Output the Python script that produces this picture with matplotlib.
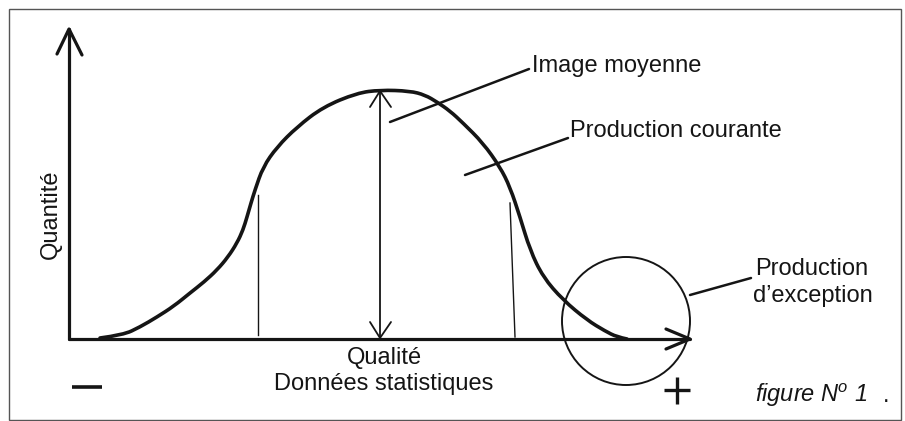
import matplotlib.pyplot as plt
from matplotlib.patches import Circle, Rectangle, PathPatch
from matplotlib.path import Path

# Quality distribution curve (pixel units, y downwards)
curve_x = [100, 123, 140, 157, 174, 190, 204, 217, 228, 237, 243, 247, 251, 255,
           263, 277, 297, 323, 357, 380, 410, 425, 437, 450, 463, 483, 500, 510,
           520, 530, 543, 563, 587, 605, 617, 627]
curve_y = [338, 335, 327, 317, 306, 293, 282, 270, 257, 243, 230, 217, 203, 190,
           167, 147, 127, 107, 93, 90, 91, 95, 102, 111, 123, 143, 167, 187,
           217, 250, 277, 300, 320, 331, 337, 339]

labels = ["Image moyenne", "Production courante", "Production", "d\u2019exception"]

plt.rcParams['font.family'] = ['Liberation Sans', 'DejaVu Sans']
plt.rcParams['mathtext.fontset'] = 'custom'
plt.rcParams['mathtext.rm'] = 'Liberation Sans'
plt.rcParams['mathtext.it'] = 'Liberation Sans:italic'

INK = '#151515'
FS = 17

fig = plt.figure(figsize=(9.05, 4.21), dpi=100)
ax = fig.add_axes([0, 0, 1, 1])
ax.set_xlim(0, 905)
ax.set_ylim(421, 0)
ax.axis('off')

# frame
ax.add_patch(Rectangle((9, 9), 892, 411, fill=False, lw=1.0, ec='#555555'))

# axes with open arrow heads
kw = dict(color=INK, lw=2.3, solid_capstyle='round', solid_joinstyle='round')
ax.plot([69, 69], [339, 29], **kw)
ax.plot([57, 69, 82], [54, 29, 55], **kw)
ax.plot([69, 690], [339, 339], **kw)
ax.plot([666, 690, 666], [329, 339, 349], **kw)

# distribution curve, drawn as a smooth quadratic bezier through the read points
pts = list(zip(curve_x, curve_y))
verts = [pts[0]]
codes = [Path.MOVETO]
for i in range(1, len(pts) - 1):
    mid = ((pts[i][0] + pts[i + 1][0]) / 2, (pts[i][1] + pts[i + 1][1]) / 2)
    if i == len(pts) - 2:
        mid = pts[-1]
    verts += [pts[i], mid]
    codes += [Path.CURVE3, Path.CURVE3]
ax.add_patch(PathPatch(Path(verts, codes), fill=False, lw=2.6, ec=INK,
                       capstyle='round', joinstyle='round'))

# thin verticals
ax.plot([258, 258], [195, 335], color=INK, lw=1.0)
ax.plot([510, 515], [203, 337], color=INK, lw=1.0)

# double arrow (mean)
kw2 = dict(color=INK, lw=1.3, solid_capstyle='round')
ax.plot([380, 380], [91, 338], **kw2)
ax.plot([370, 380, 391], [107, 91, 107], **kw2)
ax.plot([370, 380, 391], [322, 338, 322], **kw2)

# exception circle
ax.add_patch(Circle((626, 321), 64, fill=False, lw=1.4, ec=INK))

# leaders
kw3 = dict(color=INK, lw=1.8, solid_capstyle='round')
ax.plot([390, 529], [122, 69], **kw3)
ax.plot([465, 568], [175, 138], **kw3)
ax.plot([690, 751], [295, 278], **kw3)

# labels
ax.text(532, 72, labels[0], fontsize=FS, color=INK, va='baseline', ha='left')
ax.text(570, 137, labels[1], fontsize=FS, color=INK, va='baseline', ha='left')
ax.text(755, 275, labels[2], fontsize=FS, color=INK, va='baseline', ha='left')
ax.text(753, 302, labels[3], fontsize=FS, color=INK, va='baseline', ha='left')

ax.text(384, 364, "Qualit\u00e9", fontsize=FS, color=INK, va='baseline', ha='center')
ax.text(384, 390, "Donn\u00e9es statistiques", fontsize=FS, color=INK, va='baseline', ha='center')
ax.text(51, 214, "Quantit\u00e9", fontsize=FS, color=INK, va='center', ha='center', rotation=90)

ax.text(755, 402, "figure N$^{o}$ 1", fontsize=FS, color=INK, va='baseline', ha='left', style='italic')
ax.text(883, 402, ".", fontsize=FS, color=INK, va='baseline', ha='left')

# minus / plus signs
ax.plot([72, 102], [387, 387], color=INK, lw=2.6, solid_capstyle='butt')
ax.plot([664, 690], [390, 390], color=INK, lw=2.4, solid_capstyle='butt')
ax.plot([677, 677], [377, 404], color=INK, lw=2.4, solid_capstyle='butt')

fig.savefig('out.png', dpi=100)
